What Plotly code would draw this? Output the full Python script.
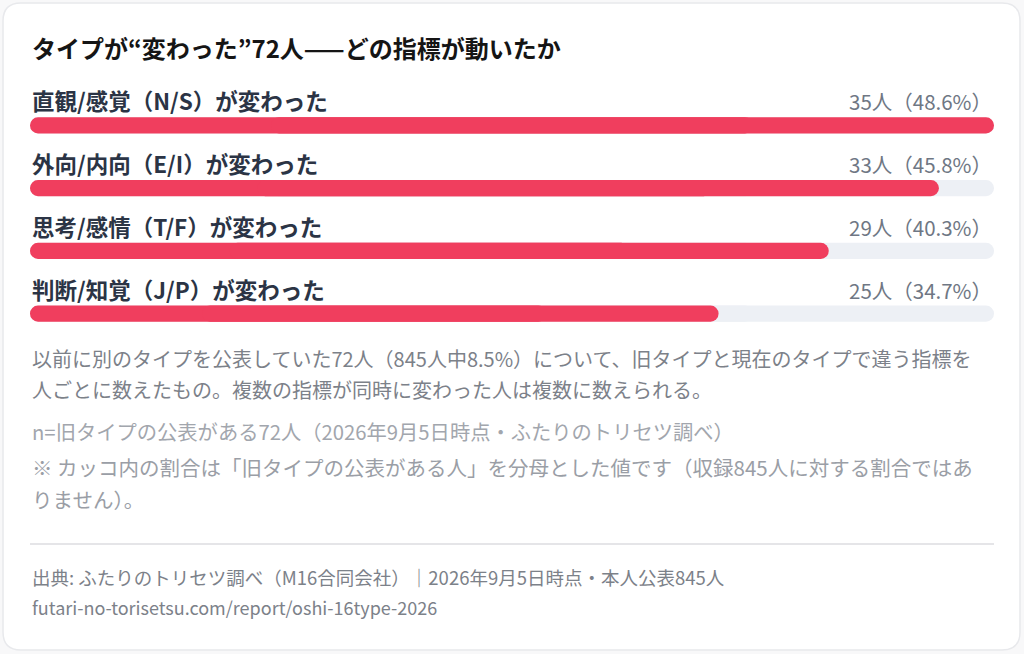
import plotly.graph_objects as go

# データ
categories = ["直観/感覚（N/S）が変わった", "外向/内向（E/I）が変わった",
              "思考/感情（T/F）が変わった", "判断/知覚（J/P）が変わった"]
counts = [35, 33, 29, 25]
percents = [48.6, 45.8, 40.3, 34.7]

title = "タイプが“変わった”72人——どの指標が動いたか"
note_lines = [
    "以前に別のタイプを公表していた72人（845人中8.5%）について、旧タイプと現在のタイプで違う指標を",
    "人ごとに数えたもの。複数の指標が同時に変わった人は複数に数えられる。",
]
n_line = "n=旧タイプの公表がある72人（2026年9月5日時点・ふたりのトリセツ調べ）"
caution_lines = [
    "※ カッコ内の割合は「旧タイプの公表がある人」を分母とした値です（収録845人に対する割合ではあ",
    "りません）。",
]
source_line = "出典: ふたりのトリセツ調べ（M16合同会社）｜2026年9月5日時点・本人公表845人"
url_line = "futari-no-torisetsu.com/report/oshi-16type-2026"

W, H = 1024, 654
ML, MR, MT, PH = 30, 30, 94, 251
MB = H - MT - PH
FONT = "Noto Sans CJK JP"


def xp(px):
    return (px - ML) / (W - ML - MR)


def yp(py):
    return (MT + PH - py) / PH


rows = list(range(len(categories)))
vmax = max(counts)
fig = go.Figure()


# 両端を丸くするため、重なり合う2本（左向き・右向き）で描く
def pill(values, color, hover):
    for base_f, sign in ((0.75, -1), (0.25, 1)):
        base = [v * base_f for v in values]
        length = [sign * v * 0.75 for v in values]
        fig.add_trace(go.Bar(
            y=rows, x=length, base=base, orientation="h",
            width=0.255, marker=dict(color=color, line=dict(width=0)),
            showlegend=False,
            hoverinfo="skip" if not hover else None,
            customdata=list(zip(counts, percents)) if hover else None,
            hovertemplate="%{customdata[0]}人（%{customdata[1]}%）<extra></extra>" if hover else None,
        ))


pill([vmax] * len(rows), "#edf0f5", False)   # 背景トラック
pill(counts, "#f03e5e", True)                # 値

annotations = []
for i, (cat, n, p) in enumerate(zip(categories, counts, percents)):
    annotations.append(dict(
        x=0, y=i, xref="paper", yref="y", yshift=25, xanchor="left", yanchor="middle",
        text=f"<b>{cat}</b>", showarrow=False,
        font=dict(family=FONT, size=22.5, color="#2b3445"),
    ))
    annotations.append(dict(
        x=1, y=i, xref="paper", yref="y", yshift=24, xanchor="right", yanchor="middle",
        text=f"{n}人（{p}%）", showarrow=False,
        font=dict(family=FONT, size=20.5, color="#6f7784"),
    ))


def add_text(text, py, size, color, bold=False):
    annotations.append(dict(
        x=0, y=yp(py), xref="paper", yref="paper", xanchor="left", yanchor="middle",
        text=f"<b>{text}</b>" if bold else text, showarrow=False,
        font=dict(family=FONT, size=size, color=color),
    ))


add_text(title, 48, 24, "#151515", bold=True)
add_text(note_lines[0], 358, 20, "#7c8189")
add_text(note_lines[1], 389, 20, "#7c8189")
add_text(n_line, 431, 20.3, "#a2a6ad")
add_text(caution_lines[0], 467, 20.5, "#9a9ea6")
add_text(caution_lines[1], 499, 20.5, "#9a9ea6")
add_text(source_line, 577, 18.5, "#7c8189")
add_text(url_line, 607, 18, "#7c8189")

# カード（角丸）
x0, x1, y0, y1, r = 3, 1020, 3, 650, 18
card = (f"M {xp(x0 + r)},{yp(y0)} L {xp(x1 - r)},{yp(y0)} "
        f"Q {xp(x1)},{yp(y0)} {xp(x1)},{yp(y0 + r)} L {xp(x1)},{yp(y1 - r)} "
        f"Q {xp(x1)},{yp(y1)} {xp(x1 - r)},{yp(y1)} L {xp(x0 + r)},{yp(y1)} "
        f"Q {xp(x0)},{yp(y1)} {xp(x0)},{yp(y1 - r)} L {xp(x0)},{yp(y0 + r)} "
        f"Q {xp(x0)},{yp(y0)} {xp(x0 + r)},{yp(y0)} Z")

shapes = [
    dict(type="path", path=card, xref="paper", yref="paper", layer="below",
         fillcolor="#ffffff", line=dict(color="#e8e9ec", width=1.5)),
    dict(type="line", xref="paper", yref="paper", x0=0, x1=1, y0=yp(544), y1=yp(544),
         line=dict(color="#dcdde0", width=1.5)),
]

fig.update_layout(
    width=W, height=H,
    margin=dict(l=ML, r=MR, t=MT, b=MB),
    paper_bgcolor="#f8f8f9", plot_bgcolor="rgba(0,0,0,0)",
    barmode="overlay", barcornerradius=8,
    xaxis=dict(range=[0, vmax], visible=False, fixedrange=True),
    yaxis=dict(range=[len(rows) - 0.5, -0.5], visible=False, fixedrange=True),
    annotations=annotations, shapes=shapes,
    font=dict(family=FONT),
)

fig.write_html("out.html", config={"displayModeBar": False},
               post_script="document.body.style.margin='0';")
